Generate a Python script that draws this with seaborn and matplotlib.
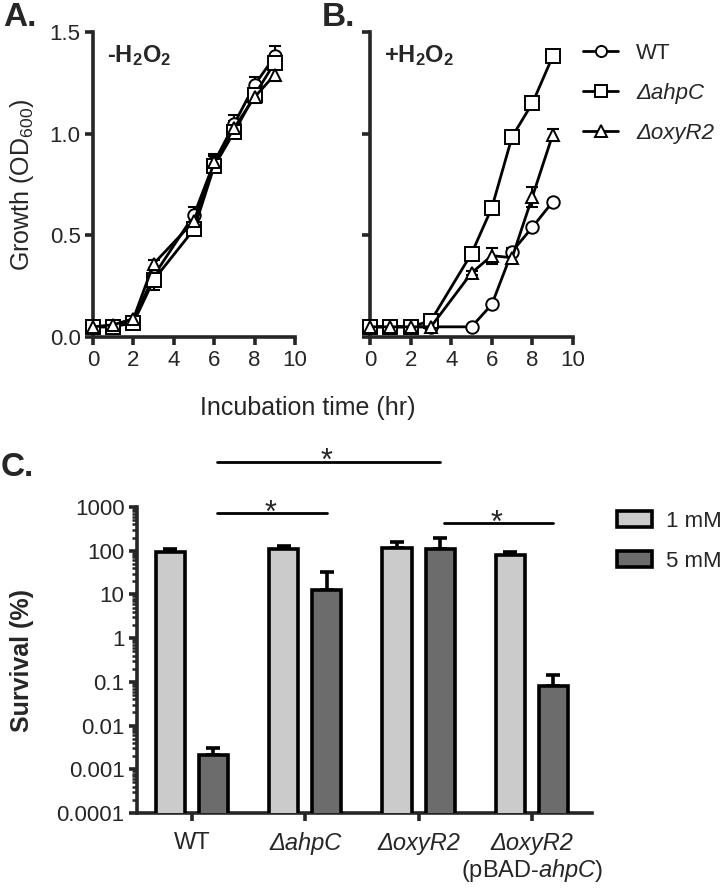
import numpy as np
import pandas as pd
import matplotlib
matplotlib.use("Agg")
import matplotlib.pyplot as plt
from matplotlib.lines import Line2D
from matplotlib.patches import Patch
import matplotlib.ticker as mticker
import seaborn as sns

# ---------------- data ----------------
time_hr = [0, 1, 2, 3, 5, 6, 7, 8, 9]
strains_ab = ["WT", "ahpC", "oxyR2"]

# Panel A (-H2O2)
a_wt = [0.05, 0.05, 0.08, 0.30, 0.60, 0.86, 1.05, 1.24, 1.38]
a_ahpc = [0.05, 0.05, 0.07, 0.28, 0.53, 0.84, 1.01, 1.19, 1.35]
a_oxyr2 = [0.05, 0.06, 0.09, 0.36, 0.57, 0.86, 1.03, 1.18, 1.29]
a_wt_err = [0.01, 0.01, 0.01, 0.03, 0.04, 0.04, 0.04, 0.04, 0.05]
a_ahpc_err = [0.01, 0.01, 0.01, 0.05, 0.03, 0.03, 0.03, 0.03, 0.03]
a_oxyr2_err = [0.01, 0.01, 0.01, 0.02, 0.03, 0.03, 0.03, 0.03, 0.03]

# Panel B (+H2O2)
b_wt = [0.05, 0.05, 0.05, 0.05, 0.05, 0.16, 0.42, 0.54, 0.665]
b_ahpc = [0.05, 0.05, 0.05, 0.08, 0.41, 0.635, 0.985, 1.15, 1.38]
b_oxyr2 = [0.05, 0.05, 0.05, 0.05, 0.315, 0.40, 0.39, 0.69, 0.995]
b_wt_err = [0.01, 0.01, 0.01, 0.01, 0.01, 0.01, 0.02, 0.01, 0.01]
b_ahpc_err = [0.01, 0.01, 0.01, 0.01, 0.01, 0.03, 0.01, 0.03, 0.01]
b_oxyr2_err = [0.01, 0.01, 0.01, 0.01, 0.01, 0.04, 0.02, 0.05, 0.03]

# Panel C (survival %)
groups_c = ["WT", "ahpC", "oxyR2", "pBAD"]
group_labels = ["WT", "ΔahpC", "ΔoxyR2", "ΔoxyR2"]
doses = ["1 mM", "5 mM"]
surv_1mm = [93, 110, 115, 80]
surv_1mm_err = [17, 15, 43, 13]
surv_5mm = [0.0021, 12.6, 110, 0.08]
surv_5mm_err = [0.001, 19.4, 85, 0.06]

# ---------------- style ----------------
sns.set_style("ticks")
plt.rcParams["font.family"] = ["Liberation Sans", "DejaVu Sans"]
plt.rcParams["mathtext.fontset"] = "custom"
plt.rcParams["mathtext.rm"] = "Liberation Sans"
plt.rcParams["mathtext.it"] = "Liberation Sans:italic"
plt.rcParams["mathtext.bf"] = "Liberation Sans:bold"

SPINE = 2.6
TICK_FS = 16
fig = plt.figure(figsize=(7.2, 8.89), dpi=100)

axA = fig.add_axes([93 / 720, 1 - 337 / 889, 202 / 720, 305 / 889])
axB = fig.add_axes([370 / 720, 1 - 337 / 889, 203 / 720, 305 / 889])
axC = fig.add_axes([137 / 720, 1 - 813 / 889, 455 / 720, 306 / 889])

markers = {"WT": "o", "ahpC": "s", "oxyR2": "^"}
msizes = {"WT": 9, "ahpC": 10, "oxyR2": 9}


def growth_panel(ax, ys, errs, title):
    rows = []
    for s, y in zip(strains_ab, ys):
        for t, v in zip(time_hr, y):
            rows.append({"time": t, "od": v, "strain": s})
    df = pd.DataFrame(rows)
    for s, y, e in zip(strains_ab, ys, errs):
        ax.errorbar(time_hr, y, yerr=e, fmt="none", ecolor="black",
                    elinewidth=1.5, capsize=4, capthick=1.5, zorder=2)
    for s in strains_ab:
        sns.lineplot(data=df[df.strain == s], x="time", y="od", ax=ax,
                     color="black", lw=2.0, marker=markers[s],
                     markersize=msizes[s], mfc="white", mec="black",
                     mew=1.4, legend=False, zorder=3, clip_on=False)
    ax.set_xlim(0, 10)
    ax.set_ylim(0, 1.5)
    ax.set_xticks([0, 2, 4, 6, 8, 10])
    ax.set_yticks([0, 0.5, 1.0, 1.5])
    ax.set_xlabel("")
    ax.set_ylabel("")
    for sp in ["top", "right"]:
        ax.spines[sp].set_visible(False)
    for sp in ["left", "bottom"]:
        ax.spines[sp].set_linewidth(SPINE)
    ax.tick_params(width=SPINE, length=6, labelsize=TICK_FS, pad=3)
    ax.text(0.07, 0.965, title, transform=ax.transAxes, fontsize=17,
            fontweight="bold", va="top", ha="left")


growth_panel(axA, [a_wt, a_ahpc, a_oxyr2], [a_wt_err, a_ahpc_err, a_oxyr2_err],
             r"-H$_\mathbf{2}$O$_\mathbf{2}$")
axA.set_yticklabels(["0.0", "0.5", "1.0", "1.5"])
growth_panel(axB, [b_wt, b_ahpc, b_oxyr2], [b_wt_err, b_ahpc_err, b_oxyr2_err],
             r"+H$_\mathbf{2}$O$_\mathbf{2}$")
axB.set_yticklabels([])

fig.text(22 / 720, 1 - 185 / 889, r"Growth (OD$_{600}$)", rotation=90,
         ha="center", va="center", fontsize=18)
fig.text(308 / 720, 1 - 408 / 889, "Incubation time (hr)", ha="center",
         va="center", fontsize=18)

leg_labels = ["WT", "ΔahpC", "ΔoxyR2"]
handles = [Line2D([0], [0], color="black", lw=2.0, marker=markers[s],
                  markersize=msizes[s] - 1, mfc="white", mec="black", mew=1.4)
           for s in strains_ab]
legB = fig.legend(handles, leg_labels, loc="upper left",
                  bbox_to_anchor=(574 / 720, 1 - 34 / 889), frameon=False,
                  fontsize=16, handlelength=1.6, labelspacing=0.85,
                  handletextpad=0.8, borderaxespad=0.0)
for t in legB.get_texts()[1:]:
    t.set_fontstyle("italic")

# ---------------- panel C ----------------
rows = []
for g, v1, v5 in zip(groups_c, surv_1mm, surv_5mm):
    rows.append({"group": g, "dose": doses[0], "surv": v1})
    rows.append({"group": g, "dose": doses[1], "surv": v5})
dfc = pd.DataFrame(rows)

axC.set_yscale("log")
palette = {"1 mM": "#cbcbcb", "5 mM": "#6c6c6c"}
sns.barplot(data=dfc, x="group", y="surv", hue="dose", order=groups_c,
            hue_order=doses, palette=palette, edgecolor="black", linewidth=2.6,
            width=0.76, gap=0.32, errorbar=None, ax=axC, legend=False,
            zorder=3)

off = 0.19
xs = np.arange(len(groups_c))
axC.errorbar(xs - off, surv_1mm, yerr=[np.zeros(4), surv_1mm_err], fmt="none",
             ecolor="black", elinewidth=2.6, capsize=5, capthick=2.6, zorder=2)
axC.errorbar(xs + off, surv_5mm, yerr=[np.zeros(4), surv_5mm_err], fmt="none",
             ecolor="black", elinewidth=2.6, capsize=5, capthick=2.6, zorder=2)

axC.set_ylim(1e-4, 1e3)
axC.set_xlim(-0.485, 3.53)
yt = [1e-4, 1e-3, 1e-2, 1e-1, 1, 10, 100, 1000]
axC.yaxis.set_major_locator(mticker.FixedLocator(yt))
axC.set_yticklabels(["0.0001", "0.001", "0.01", "0.1", "1", "10", "100", "1000"])
axC.yaxis.set_minor_locator(mticker.LogLocator(base=10, subs=np.arange(2, 10),
                                               numticks=20))
axC.yaxis.set_minor_formatter(mticker.NullFormatter())
axC.set_xticks(xs)
axC.set_xticklabels(group_labels, fontsize=17)
for lab in axC.get_xticklabels()[1:]:
    lab.set_fontstyle("italic")
axC.text(3, -0.187, r"(pBAD-$\mathit{ahpC}$)", transform=axC.get_xaxis_transform(),
         ha="center", va="center", fontsize=17)
axC.set_xlabel("")
axC.set_ylabel("")
for sp in ["top", "right"]:
    axC.spines[sp].set_visible(False)
for sp in ["left", "bottom"]:
    axC.spines[sp].set_linewidth(SPINE)
axC.tick_params(axis="y", which="major", width=SPINE, length=6, labelsize=TICK_FS,
                pad=3)
axC.tick_params(axis="x", which="major", width=SPINE, length=6, pad=8)
axC.tick_params(axis="y", which="minor", width=1.8, length=3.5)
fig.text(22 / 720, 1 - 660 / 889, "Survival (%)", rotation=90, ha="center",
         va="center", fontsize=18, fontweight="bold")

# significance bars
sig = [(0 + off, 2 + off, 10 ** 4.03), (0 + off, 1 + off, 10 ** 2.86),
       (2 + off, 3 + off, 10 ** 2.63)]
for x0, x1, yv in sig:
    axC.plot([x0 + 0.03, x1], [yv, yv], color="black", lw=2.0, clip_on=False)
    axC.annotate("*", xy=((x0 + x1) / 2, yv), xytext=(0, -6),
                 textcoords="offset points", ha="center", va="baseline",
                 fontsize=22, annotation_clip=False)

leg_h = [Patch(facecolor=palette[d], edgecolor="black", linewidth=2.6)
         for d in doses]
fig.legend(leg_h, doses, loc="upper left", bbox_to_anchor=(608 / 720, 1 - 502 / 889),
           frameon=False, fontsize=16, handlelength=1.6, handleheight=0.75,
           labelspacing=0.85, handletextpad=0.6, borderaxespad=0.0)

# panel letters
fig.text(3 / 720, 1 - 2 / 889, "A.", fontsize=24, fontweight="bold", va="top")
fig.text(322 / 720, 1 - 2 / 889, "B.", fontsize=24, fontweight="bold", va="top")
fig.text(1 / 720, 1 - 452 / 889, "C.", fontsize=24, fontweight="bold", va="top")

fig.savefig("out.png", dpi=100)
